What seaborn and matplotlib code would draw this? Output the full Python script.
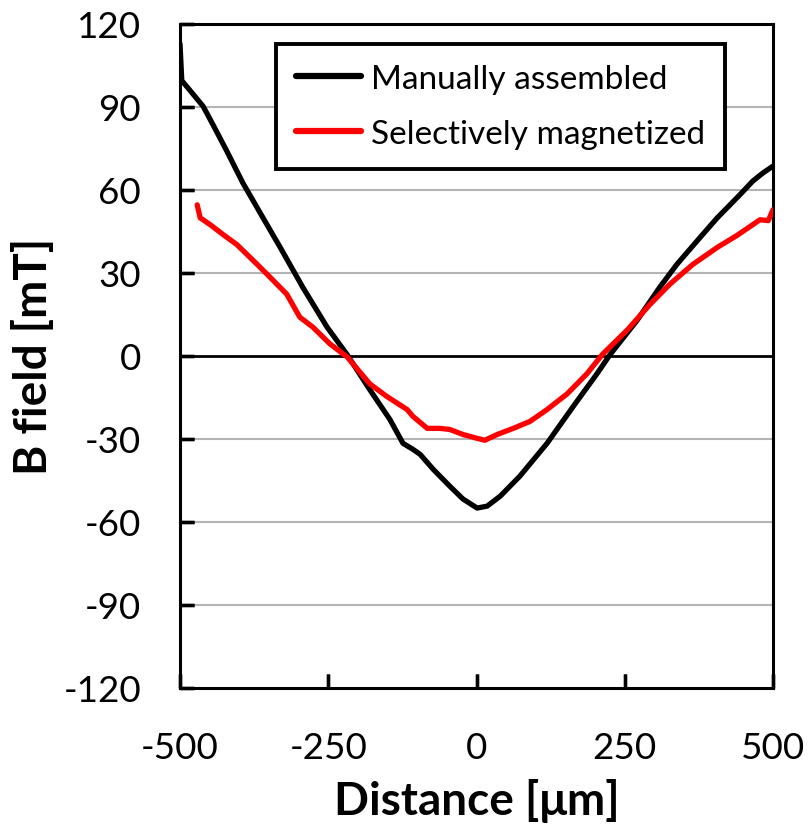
import matplotlib
matplotlib.use("Agg")
import matplotlib.pyplot as plt
import seaborn as sns
import pandas as pd

# Measured field profiles across the magnet gap
manual_x = [-500, -497, -483, -461, -444, -421, -394, -360, -331, -293, -252, -218,
            -180, -146, -124, -107, -95, -73, -45, -23, 1, 18, 40, 73, 119, 163,
            203, 225, 271, 309, 338, 377, 406, 444, 466, 483, 500]
manual_b = [112.8, 99.5, 95.9, 90.2, 83.4, 74.0, 62.5, 49.9, 39.2, 24.8, 10.4, 0.4,
            -12.2, -23.0, -31.6, -33.8, -35.6, -41.0, -47.1, -51.7, -55.0, -54.3,
            -50.7, -43.5, -31.6, -18.3, -6.5, 0.4, 12.9, 24.8, 33.1, 42.8, 49.9,
            58.2, 63.2, 66.1, 68.6]

selective_x = [-471, -466, -449, -427, -404, -370, -348, -320, -298, -276, -247, -218,
               -180, -151, -117, -107, -83, -62, -45, -23, 1, 14, 35, 62, 90, 119,
               153, 186, 213, 254, 293, 326, 365, 406, 439, 478, 492, 500]
selective_b = [54.6, 49.9, 47.4, 43.8, 40.2, 33.1, 28.4, 22.3, 14.0, 10.4, 4.3, -0.4,
               -10.1, -14.7, -19.4, -21.9, -26.2, -26.2, -26.6, -28.4, -29.8, -30.5,
               -28.4, -26.2, -23.7, -19.4, -13.7, -6.5, 0.7, 9.3, 18.7, 25.9, 33.1,
               39.2, 43.5, 49.2, 48.9, 52.8]

series_names = ["Manually assembled", "Selectively magnetized"]
series_colors = ["#000000", "#ff0000"]

x_ticks = [-500, -250, 0, 250, 500]
y_ticks = [-120, -90, -60, -30, 0, 30, 60, 90, 120]

df = pd.concat([
    pd.DataFrame({"Distance": manual_x, "B": manual_b, "Sample": series_names[0]}),
    pd.DataFrame({"Distance": selective_x, "B": selective_b, "Sample": series_names[1]}),
], ignore_index=True)

sns.set_theme(style="ticks", rc={
    "axes.axisbelow": False,
    "axes.edgecolor": "black",
    "axes.linewidth": 2.2,
    "xtick.direction": "in", "ytick.direction": "in",
    "xtick.bottom": True, "ytick.left": True,
    "xtick.top": False, "ytick.right": False,
    "xtick.major.size": 10, "ytick.major.size": 10,
    "xtick.major.width": 2.4, "ytick.major.width": 2.4,
    "xtick.color": "black", "ytick.color": "black",
    "xtick.labelcolor": "black", "ytick.labelcolor": "black",
    "xtick.labelsize": 26.5, "ytick.labelsize": 26.5,
    "xtick.major.pad": 31, "ytick.major.pad": 28,
})
plt.rcParams["font.family"] = ["Lato", "DejaVu Sans"]
plt.rcParams["axes.unicode_minus"] = False

fig = plt.figure(figsize=(8.09, 8.29), dpi=100)
ax = fig.add_axes([0.2225, 0.169, 0.733, 0.801])

# horizontal grid lines, zero line in black
for yv in y_ticks[1:-1]:
    if yv == 0:
        ax.axhline(yv, color="black", lw=2.0, zorder=1)
    else:
        ax.axhline(yv, color="#b4b4b4", lw=1.5, zorder=1)

sns.lineplot(data=df, x="Distance", y="B", hue="Sample", palette=series_colors,
             hue_order=series_names, linewidth=3.8, sort=False, ax=ax,
             legend=True, zorder=3)

ax.set_xlim(-500, 500)
ax.set_ylim(-120, 120)
ax.set_xticks(x_ticks)
ax.set_yticks(y_ticks)

# inward tick stubs along the bottom and left spines
ax.vlines(x_ticks, 0, 0.021, transform=ax.get_xaxis_transform(),
          colors="black", lw=2.4, zorder=2.6, clip_on=False)
ax.hlines(y_ticks, 0, 0.0236, transform=ax.get_yaxis_transform(),
          colors="black", lw=2.4, zorder=2.6, clip_on=False)

for s in ax.spines.values():
    s.set_visible(True)

ax.set_xlabel("Distance [μm]", fontsize=33, fontweight="bold", labelpad=10,
              color="black")
ax.set_ylabel("B field [mT]", fontsize=33, fontweight="bold", labelpad=6,
              color="black")

leg = ax.legend(loc="upper right", bbox_to_anchor=(0.919, 0.970), fontsize=24,
                frameon=True, fancybox=False, handlelength=1.95, handletextpad=0.3,
                labelspacing=0.75, borderpad=0.6, borderaxespad=0)
leg.get_frame().set_edgecolor("black")
leg.get_frame().set_linewidth(2.8)
leg.get_frame().set_alpha(1)
leg.set_zorder(5)
for h in leg.get_lines():
    h.set_linewidth(4.5)
for t in leg.get_texts():
    t.set_color("black")

fig.savefig("out.png", dpi=100)
